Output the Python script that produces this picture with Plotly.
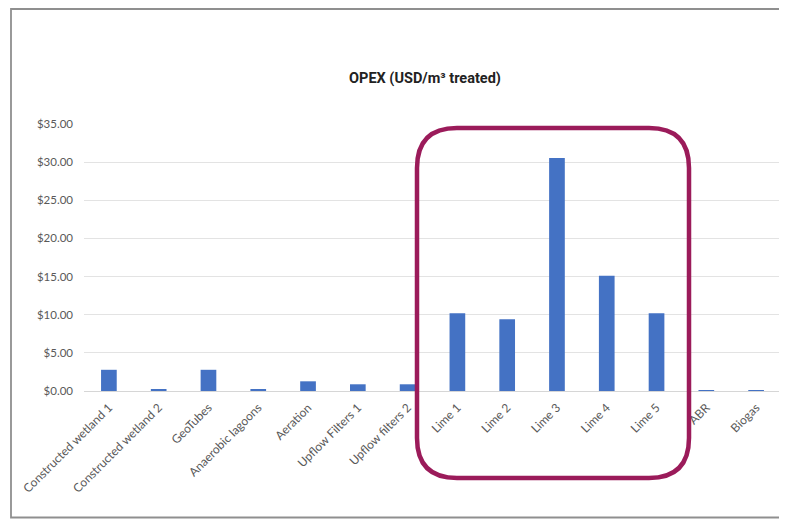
import plotly.graph_objects as go

categories = ["Constructed wetland 1", "Constructed wetland 2", "GeoTubes", "Anaerobic lagoons",
              "Aeration", "Upflow Filters 1", "Upflow filters 2", "Lime 1", "Lime 2", "Lime 3",
              "Lime 4", "Lime 5", "ABR", "Biogas"]
opex = [2.78, 0.22, 2.78, 0.2, 1.27, 0.88, 0.88, 10.2, 9.4, 30.55, 15.1, 10.2, 0.1, 0.1]
y_ticks = [0, 5, 10, 15, 20, 25, 30, 35]
y_tick_labels = ["$%.2f" % v for v in y_ticks]

OFF = 8  # page body margin
W, H = 787 - OFF, 520 - OFF
L, R, T, B = 84 - OFF, 6, 124 - OFF, 129
pw, ph = W - L - R, H - T - B

def px_x(x):
    return (x - OFF - L) / pw

def px_y(y):
    return (H - B - (y - OFF)) / ph

fig = go.Figure(go.Bar(x=categories, y=opex, marker=dict(color="#4472C4", line=dict(width=0)),
                       width=0.315))

# rounded highlight box (paper coords)
x0, x1 = px_x(417), px_x(689)
y0, y1 = px_y(478), px_y(128)
rx, ry = 40 / pw, 40 / ph
path = (f"M {x0+rx},{y1} L {x1-rx},{y1} Q {x1},{y1} {x1},{y1-ry} "
        f"L {x1},{y0+ry} Q {x1},{y0} {x1-rx},{y0} L {x0+rx},{y0} "
        f"Q {x0},{y0} {x0},{y0+ry} L {x0},{y1-ry} Q {x0},{y1} {x0+rx},{y1} Z")

fig.add_shape(type="path", path=path, xref="paper", yref="paper",
              line=dict(color="#9B1B5A", width=4.5), layer="above")
# outer chart border
fig.add_shape(type="rect", xref="paper", yref="paper",
              x0=px_x(11), x1=px_x(830), y0=px_y(517.5), y1=px_y(9),
              line=dict(color="#8f8f8f", width=1.8), layer="below")

fig.update_layout(
    width=W, height=H,
    margin=dict(l=L, r=R, t=T, b=B),
    paper_bgcolor="white", plot_bgcolor="white",
    showlegend=False,
    title=dict(text="<b>OPEX (USD/m³ treated)</b>", x=(425 - OFF) / W, xanchor="center",
               y=1 - (78 - OFF) / H, yanchor="middle",
               font=dict(family="Roboto", size=14.5, color="#222222")),
    bargap=0.685,
)
fig.update_yaxes(range=[0, 35], tickvals=y_ticks, ticktext=y_tick_labels,
                 showgrid=True, gridcolor="#e3e3e3", gridwidth=1, zeroline=False,
                 showline=False, ticks="", ticklabelstandoff=10,
                 tickfont=dict(family="Lato", size=11.5, color="#595959"))
fig.update_xaxes(showgrid=False, showline=True, linecolor="#d6d6d6", linewidth=1,
                 ticks="", tickangle=-45, ticklabelstandoff=4,
                 tickfont=dict(family="Lato", size=12, color="#595959"))

fig.write_html("out.html")
